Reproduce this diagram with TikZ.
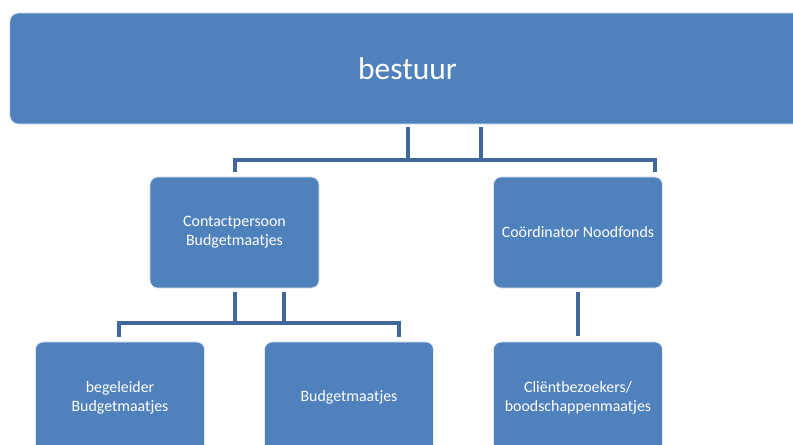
\documentclass[tikz,border=0pt]{standalone}
\usepackage{fontspec}
\setmainfont{Carlito}
\usepackage{tikz}
\usetikzlibrary{positioning}
\definecolor{boxblue}{RGB}{79,129,189}
\definecolor{linkblue}{RGB}{64,104,156}
\tikzset{
  % box of the chart
  orgbox/.style={fill=boxblue, draw=white!85!boxblue, line width=0.5pt,
    rounded corners=5.5pt, text=white, align=center, inner sep=0pt,
    minimum width=4.225cm, minimum height=2.775cm,
    font=\fontsize{11.3}{13.4}\selectfont},
  % connector between boxes
  link/.style={draw=linkblue, line width=3.2pt, line join=miter}
}
\begin{document}
\begin{tikzpicture}[x=0.025cm, y=-0.025cm]

  % page size and clipping
  \useasboundingbox (0,0) rectangle (793,445);
  \clip (0,0) rectangle (793,445);

  % board
  \node[orgbox, minimum width=19.875cm, rounded corners=6pt,
    font=\fontsize{22.4}{26}\selectfont] (bestuur) at (407.5,68.5) {bestuur};

  % second level
  \node[orgbox] (cp) at (234.5,232.5) {Contactpersoon\\Budgetmaatjes};
  \node[orgbox] (coord) at (578,232.5) {Coördinator Noodfonds};

  % third level
  \node[orgbox] (beg) at (120,397.5) {begeleider\\Budgetmaatjes};
  \node[orgbox] (bm) at (349,397.5) {Budgetmaatjes};
  \node[orgbox] (cli) at (578,397.5) {Cliëntbezoekers/\\boodschappenmaatjes};

  % junctions of the connectors
  \coordinate (jA) at (408,160);
  \coordinate (jB) at (481,160);
  \coordinate (busL) at (235,160);
  \coordinate (busR) at (655,160);
  \coordinate (kA) at (235,323);
  \coordinate (kB) at (284,323);
  \coordinate (busL2) at (119,323);
  \coordinate (busR2) at (399,323);

  % connectors from the board
  \draw[link] ([yshift=-2pt]bestuur.south -| jA) -- (jA);
  \draw[link] ([yshift=-2pt]bestuur.south -| jB) -- (jB);
  \draw[link] ([yshift=3.5pt]cp.north -| busL) -- (busL) -- (busR)
    -- ([yshift=3.5pt]coord.north -| busR);

  % connectors from the contact person
  \draw[link] ([yshift=-2.5pt]cp.south -| kA) -- (kA);
  \draw[link] ([yshift=-2.5pt]cp.south -| kB) -- (kB);
  \draw[link] ([yshift=3.5pt]beg.north -| busL2) -- (busL2) -- (busR2)
    -- ([yshift=3.5pt]bm.north -| busR2);

  % connector from the coordinator
  \draw[link] ([yshift=-2.5pt]coord.south) -- ([yshift=4pt]cli.north);

\end{tikzpicture}
\end{document}
